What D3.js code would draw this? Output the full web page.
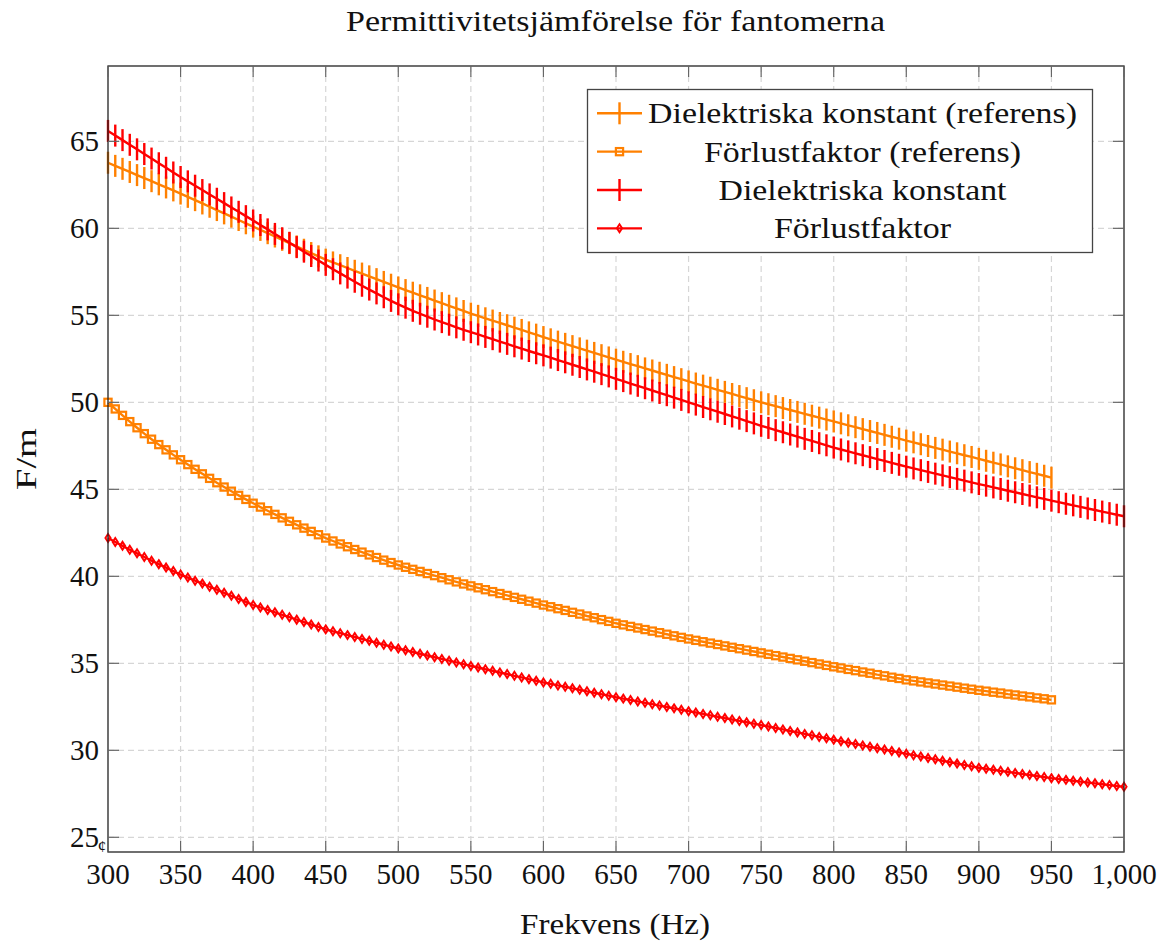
<!DOCTYPE html>
<html>
<head>
<meta charset="utf-8">
<script src="https://cdn.jsdelivr.net/npm/d3@7"></script>
<style>
  body { margin: 0; background: #fff; }
  text { font-family: "Liberation Serif", "Times New Roman", Times, serif; fill: #111; }
</style>
</head>
<body>
<svg id="chart"></svg>
<script>
// frequencies (Hz), 5 Hz sampling
var freqRef = d3.range(300, 951, 5);
var freqMeas = d3.range(300, 1001, 5);

// Dielektriska konstant (referens), 300..950
var dielRef = [
  63.77, 63.59, 63.42, 63.24, 63.06, 62.89, 62.71, 62.53, 62.35, 62.18,
  62.00, 61.81, 61.62, 61.43, 61.24, 61.05, 60.86, 60.67, 60.48, 60.29,
  60.10, 59.91, 59.72, 59.53, 59.34, 59.15, 58.96, 58.77, 58.58, 58.39,
  58.20, 58.04, 57.88, 57.72, 57.56, 57.40, 57.24, 57.08, 56.92, 56.76,
  56.60, 56.45, 56.30, 56.15, 56.00, 55.85, 55.70, 55.55, 55.40, 55.25,
  55.10, 54.97, 54.83, 54.70, 54.56, 54.43, 54.29, 54.16, 54.02, 53.89,
  53.75, 53.62, 53.49, 53.36, 53.23, 53.10, 52.97, 52.84, 52.71, 52.58,
  52.45, 52.33, 52.20, 52.08, 51.95, 51.83, 51.70, 51.58, 51.45, 51.33,
  51.20, 51.08, 50.96, 50.84, 50.72, 50.60, 50.48, 50.36, 50.24, 50.12,
  50.00, 49.89, 49.78, 49.67, 49.56, 49.45, 49.34, 49.23, 49.12, 49.01,
  48.90, 48.79, 48.68, 48.57, 48.46, 48.35, 48.24, 48.13, 48.02, 47.91,
  47.80, 47.70, 47.59, 47.49, 47.38, 47.28, 47.17, 47.07, 46.96, 46.86,
  46.75, 46.64, 46.53, 46.43, 46.32, 46.21, 46.10, 45.99, 45.89, 45.78,
  45.67
];

// Förlustfaktor (referens), 300..950
var lossRef = [
  50.00, 49.62, 49.25, 48.89, 48.54, 48.20, 47.88, 47.57, 47.27, 46.98,
  46.70, 46.42, 46.15, 45.89, 45.63, 45.38, 45.13, 44.89, 44.65, 44.42,
  44.20, 43.98, 43.77, 43.56, 43.36, 43.16, 42.96, 42.77, 42.58, 42.39,
  42.20, 42.03, 41.86, 41.70, 41.54, 41.39, 41.23, 41.08, 40.93, 40.79,
  40.65, 40.52, 40.40, 40.28, 40.16, 40.04, 39.92, 39.80, 39.68, 39.56,
  39.45, 39.34, 39.23, 39.12, 39.01, 38.90, 38.79, 38.68, 38.57, 38.46,
  38.35, 38.25, 38.14, 38.04, 37.93, 37.83, 37.72, 37.62, 37.51, 37.41,
  37.30, 37.21, 37.12, 37.03, 36.94, 36.85, 36.76, 36.67, 36.58, 36.49,
  36.40, 36.32, 36.24, 36.16, 36.08, 36.00, 35.92, 35.84, 35.76, 35.68,
  35.60, 35.52, 35.44, 35.36, 35.28, 35.20, 35.12, 35.04, 34.96, 34.88,
  34.80, 34.73, 34.65, 34.58, 34.50, 34.43, 34.35, 34.28, 34.20, 34.13,
  34.05, 33.99, 33.93, 33.87, 33.81, 33.75, 33.69, 33.63, 33.57, 33.51,
  33.45, 33.40, 33.34, 33.29, 33.23, 33.18, 33.12, 33.07, 33.01, 32.96,
  32.90
];

// Dielektriska konstant, 300..1000
var dielMeas = [
  65.60, 65.33, 65.07, 64.80, 64.54, 64.27, 64.01, 63.74, 63.48, 63.21,
  62.95, 62.70, 62.45, 62.20, 61.95, 61.70, 61.45, 61.20, 60.95, 60.70,
  60.45, 60.19, 59.94, 59.68, 59.43, 59.17, 58.92, 58.66, 58.41, 58.15,
  57.90, 57.65, 57.41, 57.17, 56.93, 56.70, 56.48, 56.26, 56.04, 55.83,
  55.63, 55.44, 55.26, 55.09, 54.92, 54.76, 54.61, 54.46, 54.31, 54.17,
  54.03, 53.90, 53.76, 53.63, 53.49, 53.36, 53.22, 53.09, 52.95, 52.82,
  52.70, 52.57, 52.43, 52.30, 52.16, 52.03, 51.89, 51.76, 51.62, 51.49,
  51.35, 51.22, 51.08, 50.95, 50.81, 50.68, 50.54, 50.41, 50.27, 50.14,
  50.00, 49.87, 49.73, 49.60, 49.46, 49.33, 49.19, 49.06, 48.92, 48.79,
  48.65, 48.53, 48.40, 48.28, 48.15, 48.03, 47.90, 47.78, 47.65, 47.53,
  47.40, 47.29, 47.18, 47.07, 46.96, 46.85, 46.74, 46.63, 46.52, 46.41,
  46.30, 46.20, 46.10, 46.00, 45.90, 45.80, 45.70, 45.60, 45.50, 45.40,
  45.30, 45.21, 45.11, 45.02, 44.92, 44.83, 44.73, 44.64, 44.54, 44.45,
  44.35, 44.26, 44.17, 44.08, 43.99, 43.90, 43.81, 43.72, 43.63, 43.54,
  43.45
];

// Förlustfaktor, 300..1000
var lossMeas = [
  42.20, 41.97, 41.75, 41.53, 41.32, 41.11, 40.90, 40.70, 40.50, 40.30,
  40.10, 39.93, 39.75, 39.58, 39.40, 39.23, 39.05, 38.88, 38.70, 38.53,
  38.35, 38.21, 38.07, 37.93, 37.79, 37.65, 37.51, 37.37, 37.23, 37.09,
  36.95, 36.84, 36.73, 36.62, 36.51, 36.40, 36.29, 36.18, 36.07, 35.96,
  35.85, 35.75, 35.65, 35.55, 35.45, 35.35, 35.25, 35.15, 35.05, 34.95,
  34.85, 34.76, 34.66, 34.57, 34.47, 34.38, 34.28, 34.19, 34.09, 34.00,
  33.90, 33.82, 33.73, 33.65, 33.56, 33.48, 33.39, 33.31, 33.22, 33.14,
  33.05, 32.97, 32.89, 32.81, 32.73, 32.65, 32.57, 32.49, 32.41, 32.33,
  32.25, 32.17, 32.09, 32.01, 31.93, 31.85, 31.77, 31.69, 31.61, 31.53,
  31.45, 31.37, 31.28, 31.20, 31.11, 31.03, 30.94, 30.86, 30.77, 30.69,
  30.60, 30.52, 30.44, 30.36, 30.28, 30.20, 30.12, 30.04, 29.96, 29.88,
  29.80, 29.72, 29.64, 29.56, 29.48, 29.40, 29.32, 29.24, 29.16, 29.08,
  29.00, 28.94, 28.88, 28.82, 28.76, 28.70, 28.64, 28.58, 28.52, 28.46,
  28.40, 28.35, 28.30, 28.25, 28.20, 28.15, 28.10, 28.05, 28.00, 27.95,
  27.90
];

var xTicks = [300, 350, 400, 450, 500, 550, 600, 650, 700, 750, 800, 850, 900, 950, 1000];
var yTicks = [25, 30, 35, 40, 45, 50, 55, 60, 65];

var seriesNames = ["Dielektriska konstant (referens)", "Förlustfaktor (referens)", "Dielektriska konstant", "Förlustfaktor"];
var seriesColors = ["#ff8000", "#ff8000", "#ff0000", "#ff0000"];
var seriesMarks = ["bar", "square", "bar", "diamond"];

var W = 1169, H = 943;
var plot = { left: 108, right: 1124, top: 66, bottom: 852 };

var svg = d3.select("#chart").attr("width", W).attr("height", H);

var x = d3.scaleLinear().domain([300, 1000]).range([plot.left, plot.right]);
var y = d3.scaleLinear().domain([24.155, 69.33]).range([plot.bottom, plot.top]);

var series = [
  { xs: freqRef, ys: dielRef },
  { xs: freqRef, ys: lossRef },
  { xs: freqMeas, ys: dielMeas },
  { xs: freqMeas, ys: lossMeas }
].map(function (s, i) {
  return {
    name: seriesNames[i], color: seriesColors[i], mark: seriesMarks[i],
    points: s.xs.map(function (f, j) { return [f, s.ys[j]]; })
  };
});

// grid
var grid = svg.append("g").attr("stroke", "#d6d6d6").attr("stroke-width", 1.2)
  .attr("stroke-dasharray", "6,4");
grid.selectAll(".gx").data(xTicks.slice(1, -1)).enter().append("line")
  .attr("x1", function (d) { return x(d); }).attr("x2", function (d) { return x(d); })
  .attr("y1", plot.top).attr("y2", plot.bottom);
grid.selectAll(".gy").data(yTicks).enter().append("line")
  .attr("y1", function (d) { return y(d); }).attr("y2", function (d) { return y(d); })
  .attr("x1", plot.left).attr("x2", plot.right);

// markers
function drawMark(g, type, color) {
  if (type === "bar") {
    g.append("line").attr("y1", -11).attr("y2", 11)
      .attr("stroke", color).attr("stroke-width", 2.4);
  } else if (type === "square") {
    g.append("rect").attr("x", -3.6).attr("y", -3.6).attr("width", 7.2).attr("height", 7.2)
      .attr("fill", "none").attr("stroke", color).attr("stroke-width", 2.2);
  } else {
    g.append("path").attr("d", "M0,-4 L2.6,0 L0,4 L-2.6,0 Z")
      .attr("fill", "none").attr("stroke", color).attr("stroke-width", 1.9);
  }
}

var line = d3.line().x(function (d) { return x(d[0]); }).y(function (d) { return y(d[1]); });

series.forEach(function (s) {
  var g = svg.append("g");
  g.append("path").datum(s.points).attr("d", line)
    .attr("fill", "none").attr("stroke", s.color).attr("stroke-width", 2.4)
    .attr("stroke-linejoin", "round");
  g.selectAll("g").data(s.points).enter().append("g")
    .attr("transform", function (d) { return "translate(" + x(d[0]) + "," + y(d[1]) + ")"; })
    .each(function () { drawMark(d3.select(this), s.mark, s.color); });
});

// frame and ticks
svg.append("rect").attr("x", plot.left).attr("y", plot.top)
  .attr("width", plot.right - plot.left).attr("height", plot.bottom - plot.top)
  .attr("fill", "none").attr("stroke", "#222").attr("stroke-width", 1.3);

var ticks = svg.append("g").attr("stroke", "#666").attr("stroke-width", 1.2);
yTicks.forEach(function (v) {
  ticks.append("line").attr("x1", plot.left).attr("x2", plot.left + 11).attr("y1", y(v)).attr("y2", y(v));
  ticks.append("line").attr("x1", plot.right).attr("x2", plot.right - 11).attr("y1", y(v)).attr("y2", y(v));
});
xTicks.forEach(function (v) {
  ticks.append("line").attr("y1", plot.bottom).attr("y2", plot.bottom - 11).attr("x1", x(v)).attr("x2", x(v));
  ticks.append("line").attr("y1", plot.top).attr("y2", plot.top + 11).attr("x1", x(v)).attr("x2", x(v));
});

var fmt = d3.format(",");
svg.selectAll(".xl").data(xTicks).enter().append("text")
  .attr("x", function (d) { return x(d); }).attr("y", 884)
  .attr("text-anchor", "middle").attr("font-size", 29)
  .text(function (d) { return fmt(d); });
svg.selectAll(".yl").data(yTicks).enter().append("text")
  .attr("x", 99).attr("y", function (d) { return y(d) + 10; })
  .attr("text-anchor", "end").attr("font-size", 29)
  .text(function (d) { return d; });
// stray glyph next to the lowest y label
svg.append("text").attr("x", 102).attr("y", 852).attr("text-anchor", "middle")
  .attr("font-size", 17).text("¢");

// title and axis labels
svg.append("text").attr("x", 615.5).attr("y", 31).attr("text-anchor", "middle")
  .attr("font-size", 29).attr("textLength", 539).attr("lengthAdjust", "spacingAndGlyphs")
  .text("Permittivitetsjämförelse för fantomerna");
svg.append("text").attr("x", 615).attr("y", 934).attr("text-anchor", "middle")
  .attr("font-size", 29).attr("textLength", 190).attr("lengthAdjust", "spacingAndGlyphs")
  .text("Frekvens (Hz)");
svg.append("text").attr("transform", "translate(36,459) rotate(-90)").attr("text-anchor", "middle")
  .attr("font-size", 29).attr("textLength", 62).attr("lengthAdjust", "spacingAndGlyphs")
  .text("F/m");

// legend
var legendW = [429, 317, 288, 177];
var legend = svg.append("g");
legend.append("rect").attr("x", 587.5).attr("y", 89.5).attr("width", 505).attr("height", 163)
  .attr("fill", "#fff").attr("stroke", "#444").attr("stroke-width", 1.3);
series.forEach(function (s, i) {
  var cy = 113.3 + i * 38.35;
  legend.append("line").attr("x1", 597).attr("x2", 642).attr("y1", cy).attr("y2", cy)
    .attr("stroke", s.color).attr("stroke-width", 2.4);
  drawMark(legend.append("g").attr("transform", "translate(619.5," + cy + ")"), s.mark, s.color);
  legend.append("text").attr("x", 862.5).attr("y", cy + 10).attr("text-anchor", "middle")
    .attr("font-size", 29).attr("textLength", legendW[i]).attr("lengthAdjust", "spacingAndGlyphs")
    .text(s.name);
});
</script>
</body>
</html>
